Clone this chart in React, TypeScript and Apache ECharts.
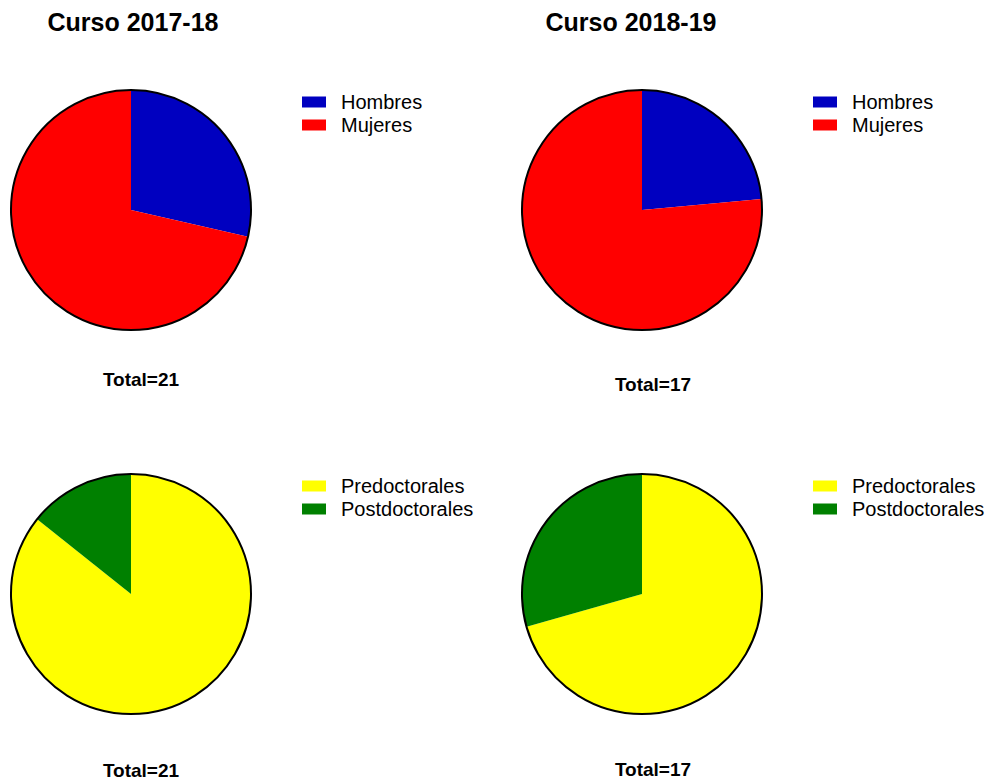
import React, { useEffect, useRef } from "react";
import * as echarts from "echarts";

const genderNames = ["Hombres", "Mujeres"];
const genderColors = ["#0000C0", "#FF0000"];
const gender2017 = [6, 15];
const gender2018 = [4, 13];

const typeNames = ["Predoctorales", "Postdoctorales"];
const typeColors = ["#FFFF00", "#008000"];
const type2017 = [18, 3];
const type2018 = [12, 5];

const courseTitles = ["Curso 2017-18", "Curso 2018-19"];

const FONT = "'Liberation Sans', Arial, Helvetica, sans-serif";

export default function App() {
  const ref = useRef<HTMLDivElement>(null);
  useEffect(() => {
    if (!ref.current) return;
    const chart = echarts.init(ref.current, null, { renderer: "svg" });
    const R = 120;
    const pies = [
      { id: "g17", names: genderNames, colors: genderColors, values: gender2017, center: [131, 210] },
      { id: "g18", names: genderNames, colors: genderColors, values: gender2018, center: [642, 210] },
      { id: "t17", names: typeNames, colors: typeColors, values: type2017, center: [131, 594] },
      { id: "t18", names: typeNames, colors: typeColors, values: type2018, center: [642, 594] },
    ];
    const series: any[] = [];
    pies.forEach((p) => {
      series.push({
        type: "pie",
        id: p.id,
        center: p.center,
        radius: R,
        startAngle: 90,
        clockwise: true,
        label: { show: false },
        labelLine: { show: false },
        emphasis: { disabled: true },
        silent: true,
        itemStyle: { borderWidth: 0 },
        data: p.values.map((v, i) => ({
          name: p.names[i],
          value: v,
          itemStyle: { color: p.colors[i] },
        })),
      });
      series.push({
        type: "pie",
        id: p.id + "_outline",
        center: p.center,
        radius: R,
        z: 5,
        silent: true,
        label: { show: false },
        labelLine: { show: false },
        emphasis: { disabled: true },
        data: [
          {
            name: "__outline",
            value: 1,
            itemStyle: { color: "rgba(0,0,0,0)", borderColor: "#000", borderWidth: 2 },
          },
        ],
      });
    });

    const legendBase = {
      orient: "vertical",
      icon: "rect",
      itemWidth: 24,
      itemHeight: 11,
      itemGap: 3,
      padding: 0,
      selectedMode: false,
      textStyle: {
        fontFamily: FONT,
        fontSize: 20,
        lineHeight: 20,
        color: "#000",
        padding: [0, 0, 0, 10],
      },
    };
    const legend = [
      { ...legendBase, data: genderNames, left: 302, top: 92 },
      { ...legendBase, data: genderNames, left: 813, top: 92 },
      { ...legendBase, data: typeNames, left: 302, top: 476 },
      { ...legendBase, data: typeNames, left: 813, top: 476 },
    ];

    const sum = (a: number[]) => a.reduce((s, v) => s + v, 0);
    const titleStyle = { fontFamily: FONT, fontSize: 25, fontWeight: "bold", fill: "#000" };
    const totalStyle = { fontFamily: FONT, fontSize: 19, fontWeight: "bold", fill: "#000" };
    const graphic: any[] = [
      { type: "text", x: 133, y: 22, style: { ...titleStyle, text: courseTitles[0], textAlign: "center", textVerticalAlign: "middle" } },
      { type: "text", x: 631, y: 22, style: { ...titleStyle, text: courseTitles[1], textAlign: "center", textVerticalAlign: "middle" } },
      { type: "text", x: 141, y: 379, style: { ...totalStyle, text: "Total=" + sum(gender2017), textAlign: "center", textVerticalAlign: "middle" } },
      { type: "text", x: 653, y: 384, style: { ...totalStyle, text: "Total=" + sum(gender2018), textAlign: "center", textVerticalAlign: "middle" } },
      { type: "text", x: 141, y: 770, style: { ...totalStyle, text: "Total=" + sum(type2017), textAlign: "center", textVerticalAlign: "middle" } },
      { type: "text", x: 653, y: 769, style: { ...totalStyle, text: "Total=" + sum(type2018), textAlign: "center", textVerticalAlign: "middle" } },
    ];

    chart.setOption({
      animation: false,
      backgroundColor: "#fff",
      legend,
      series,
      graphic,
    });
    return () => chart.dispose();
  }, []);
  return (
    <div
      ref={ref}
      style={{ position: "fixed", left: 0, top: 0, width: 987, height: 780 }}
    />
  );
}
